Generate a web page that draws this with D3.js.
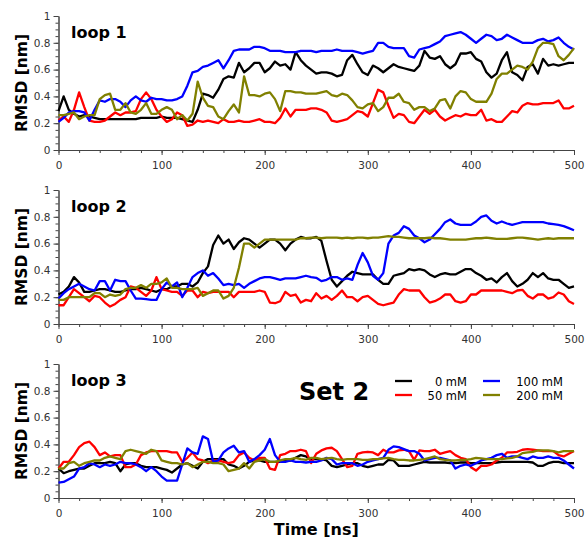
<!DOCTYPE html>
<html>
<head>
<meta charset="utf-8">
<script src="https://cdn.jsdelivr.net/npm/d3@7"></script>
<style>
  body { margin: 0; background: #fff; }
  text { font-family: "DejaVu Sans", sans-serif; }
  .axis text { font-size: 10.5px; fill: #333; }
  .axis path, .axis line { stroke: #444; stroke-width: 1; }
</style>
</head>
<body>
<div id="chart"></div>
<script>
// time points [ns]
var times = [0,5,10,15,20,25,30,35,40,45,50,55,60,65,70,75,80,85,90,95,
  100,105,110,115,120,125,130,135,140,145,150,155,160,165,170,175,180,185,190,195,
  200,205,210,215,220,225,230,235,240,245,250,255,260,265,270,275,280,285,290,295,
  300,305,310,315,320,325,330,335,340,345,350,355,360,365,370,375,380,385,390,395,
  400,405,410,415,420,425,430,435,440,445,450,455,460,465,470,475,480,485,490,495,500];

var concLabels = ["0 mM", "50 mM", "100 mM", "200 mM"];
var concColors = ["#000000", "#ff0000", "#0000ff", "#808000"];
var loopLabels = ["loop 1", "loop 2", "loop 3"];
var xTicks = [0, 100, 200, 300, 400, 500];
var yTicks = [0, 0.2, 0.4, 0.6, 0.8, 1];

// loop 1
var loop1_0 = [0.29,0.40,0.30,0.27,0.25,0.26,0.25,0.24,0.23,0.23,
  0.23,0.23,0.23,0.23,0.23,0.23,0.24,0.24,0.24,0.24,
  0.25,0.24,0.24,0.24,0.23,0.22,0.21,0.30,0.42,0.41,
  0.39,0.45,0.53,0.55,0.54,0.65,0.58,0.61,0.65,0.65,
  0.58,0.61,0.66,0.63,0.64,0.60,0.73,0.67,0.63,0.60,
  0.57,0.58,0.58,0.57,0.55,0.56,0.67,0.71,0.64,0.58,
  0.56,0.63,0.61,0.58,0.61,0.64,0.62,0.61,0.60,0.59,
  0.63,0.74,0.69,0.68,0.70,0.64,0.61,0.64,0.72,0.72,
  0.73,0.68,0.66,0.58,0.54,0.57,0.67,0.73,0.58,0.56,
  0.52,0.62,0.64,0.57,0.68,0.63,0.64,0.63,0.64,0.65,0.65];
var loop1_50 = [0.22,0.25,0.21,0.30,0.43,0.32,0.22,0.21,0.21,0.22,
  0.25,0.28,0.26,0.28,0.28,0.29,0.38,0.43,0.38,0.30,
  0.25,0.21,0.23,0.28,0.26,0.18,0.19,0.22,0.21,0.22,
  0.21,0.20,0.23,0.21,0.21,0.22,0.21,0.21,0.22,0.23,
  0.21,0.21,0.20,0.24,0.31,0.25,0.30,0.30,0.30,0.31,
  0.31,0.30,0.28,0.22,0.21,0.22,0.23,0.26,0.29,0.28,
  0.25,0.35,0.45,0.43,0.33,0.24,0.27,0.26,0.21,0.20,
  0.25,0.30,0.27,0.30,0.25,0.22,0.24,0.26,0.25,0.27,
  0.26,0.26,0.30,0.22,0.23,0.21,0.21,0.25,0.29,0.28,
  0.33,0.35,0.34,0.34,0.35,0.35,0.35,0.37,0.31,0.31,0.33];
var loop1_100 = [0.21,0.24,0.28,0.29,0.29,0.28,0.22,0.30,0.37,0.36,
  0.38,0.38,0.36,0.32,0.37,0.40,0.37,0.36,0.39,0.38,
  0.38,0.37,0.37,0.38,0.40,0.48,0.58,0.59,0.62,0.63,
  0.65,0.67,0.61,0.67,0.74,0.75,0.75,0.75,0.77,0.77,
  0.76,0.74,0.74,0.74,0.73,0.73,0.73,0.74,0.74,0.74,
  0.73,0.74,0.74,0.74,0.75,0.74,0.74,0.74,0.73,0.72,
  0.73,0.74,0.80,0.80,0.77,0.76,0.76,0.76,0.70,0.69,
  0.75,0.76,0.77,0.79,0.81,0.85,0.86,0.87,0.88,0.86,
  0.83,0.80,0.83,0.86,0.85,0.82,0.83,0.86,0.84,0.82,
  0.80,0.80,0.80,0.82,0.83,0.81,0.82,0.84,0.80,0.77,0.75];
var loop1_200 = [0.26,0.26,0.27,0.28,0.23,0.25,0.26,0.26,0.38,0.41,
  0.42,0.30,0.30,0.35,0.28,0.27,0.30,0.35,0.27,0.27,
  0.30,0.32,0.30,0.23,0.26,0.22,0.27,0.51,0.39,0.33,
  0.32,0.25,0.23,0.29,0.34,0.28,0.55,0.41,0.41,0.40,
  0.42,0.43,0.38,0.29,0.44,0.44,0.43,0.43,0.42,0.42,
  0.42,0.43,0.44,0.41,0.40,0.42,0.41,0.37,0.32,0.31,
  0.34,0.35,0.29,0.32,0.39,0.39,0.42,0.36,0.35,0.30,
  0.32,0.32,0.29,0.31,0.37,0.38,0.31,0.40,0.44,0.43,
  0.38,0.36,0.36,0.36,0.42,0.53,0.57,0.57,0.60,0.63,
  0.62,0.60,0.66,0.76,0.80,0.80,0.79,0.70,0.67,0.71,0.76];

// loop 2
var loop2_0 = [0.22,0.24,0.28,0.35,0.31,0.24,0.24,0.25,0.26,0.26,
  0.25,0.24,0.24,0.25,0.26,0.26,0.27,0.26,0.25,0.24,
  0.26,0.26,0.28,0.28,0.30,0.30,0.28,0.31,0.38,0.43,
  0.59,0.66,0.60,0.63,0.56,0.61,0.64,0.63,0.60,0.57,
  0.60,0.63,0.63,0.60,0.55,0.60,0.63,0.65,0.64,0.64,
  0.65,0.62,0.47,0.33,0.28,0.32,0.36,0.39,0.38,0.37,
  0.37,0.37,0.33,0.30,0.30,0.36,0.37,0.38,0.41,0.40,
  0.41,0.40,0.37,0.35,0.37,0.38,0.37,0.37,0.39,0.41,
  0.41,0.38,0.36,0.33,0.34,0.31,0.35,0.38,0.32,0.28,
  0.30,0.33,0.38,0.35,0.38,0.34,0.33,0.33,0.30,0.27,0.28];
var loop2_50 = [0.14,0.14,0.20,0.26,0.23,0.20,0.17,0.21,0.20,0.16,
  0.13,0.15,0.18,0.20,0.28,0.27,0.24,0.21,0.25,0.35,
  0.26,0.25,0.24,0.24,0.21,0.25,0.25,0.20,0.24,0.23,
  0.24,0.24,0.24,0.24,0.20,0.24,0.24,0.24,0.24,0.25,
  0.24,0.16,0.155,0.17,0.24,0.21,0.22,0.16,0.18,0.17,
  0.23,0.19,0.21,0.18,0.21,0.25,0.20,0.20,0.17,0.20,
  0.21,0.18,0.15,0.14,0.15,0.16,0.22,0.26,0.25,0.25,
  0.25,0.20,0.16,0.17,0.19,0.22,0.22,0.17,0.16,0.17,
  0.22,0.22,0.25,0.25,0.25,0.25,0.25,0.24,0.23,0.25,
  0.255,0.21,0.19,0.22,0.22,0.19,0.20,0.235,0.22,0.17,0.15];
var loop2_100 = [0.19,0.23,0.26,0.28,0.30,0.28,0.26,0.25,0.32,0.32,
  0.25,0.33,0.32,0.32,0.25,0.19,0.19,0.185,0.18,0.18,
  0.26,0.31,0.28,0.31,0.20,0.27,0.35,0.38,0.40,0.36,
  0.38,0.34,0.29,0.30,0.29,0.30,0.27,0.30,0.32,0.34,
  0.35,0.35,0.34,0.33,0.34,0.34,0.34,0.35,0.36,0.35,
  0.345,0.32,0.33,0.35,0.35,0.33,0.34,0.33,0.44,0.53,
  0.46,0.36,0.33,0.38,0.60,0.66,0.68,0.73,0.71,0.66,
  0.64,0.61,0.63,0.67,0.71,0.76,0.78,0.75,0.74,0.74,
  0.74,0.765,0.80,0.81,0.77,0.75,0.765,0.75,0.74,0.75,
  0.76,0.76,0.76,0.76,0.76,0.75,0.745,0.74,0.73,0.715,0.70];
var loop2_200 = [0.18,0.18,0.20,0.20,0.20,0.20,0.20,0.23,0.23,0.20,
  0.22,0.21,0.22,0.26,0.27,0.27,0.29,0.27,0.30,0.30,
  0.31,0.34,0.27,0.27,0.26,0.26,0.26,0.27,0.21,0.23,
  0.25,0.25,0.19,0.21,0.27,0.42,0.60,0.60,0.57,0.60,
  0.63,0.63,0.63,0.63,0.63,0.63,0.63,0.64,0.64,0.645,
  0.645,0.64,0.645,0.645,0.645,0.64,0.645,0.64,0.645,0.645,
  0.64,0.645,0.645,0.65,0.655,0.65,0.65,0.645,0.64,0.64,
  0.64,0.64,0.645,0.64,0.64,0.635,0.63,0.63,0.63,0.63,
  0.635,0.64,0.64,0.645,0.64,0.635,0.635,0.635,0.64,0.645,
  0.645,0.64,0.635,0.63,0.635,0.64,0.635,0.64,0.64,0.64,0.64];

// loop 3
var loop3_0 = [0.22,0.185,0.20,0.21,0.22,0.22,0.24,0.26,0.26,0.26,
  0.27,0.26,0.20,0.25,0.26,0.26,0.24,0.23,0.23,0.23,
  0.22,0.21,0.19,0.22,0.25,0.26,0.24,0.22,0.27,0.29,
  0.29,0.29,0.29,0.25,0.24,0.22,0.24,0.27,0.28,0.28,
  0.27,0.27,0.27,0.27,0.28,0.28,0.30,0.32,0.31,0.29,
  0.29,0.29,0.28,0.24,0.23,0.24,0.25,0.26,0.26,0.24,
  0.23,0.24,0.25,0.25,0.285,0.28,0.24,0.24,0.24,0.25,
  0.26,0.27,0.265,0.265,0.265,0.265,0.26,0.26,0.265,0.265,
  0.26,0.26,0.26,0.26,0.26,0.265,0.27,0.27,0.27,0.27,
  0.27,0.27,0.265,0.24,0.24,0.26,0.27,0.27,0.26,0.26,0.26];
var loop3_50 = [0.22,0.27,0.27,0.32,0.38,0.41,0.42,0.38,0.32,0.34,
  0.31,0.32,0.32,0.23,0.23,0.25,0.32,0.34,0.35,0.35,
  0.35,0.35,0.34,0.34,0.27,0.30,0.34,0.29,0.28,0.26,
  0.28,0.28,0.27,0.26,0.27,0.32,0.34,0.30,0.28,0.30,
  0.30,0.22,0.21,0.32,0.33,0.35,0.35,0.36,0.35,0.26,
  0.33,0.355,0.37,0.375,0.35,0.29,0.23,0.24,0.33,0.34,
  0.345,0.34,0.32,0.36,0.34,0.34,0.355,0.36,0.35,0.285,
  0.355,0.35,0.35,0.36,0.33,0.34,0.35,0.32,0.30,0.29,
  0.23,0.205,0.24,0.24,0.25,0.28,0.30,0.34,0.34,0.345,
  0.36,0.365,0.36,0.355,0.35,0.35,0.35,0.32,0.31,0.33,0.35];
var loop3_100 = [0.115,0.12,0.14,0.16,0.22,0.23,0.26,0.25,0.23,0.25,
  0.24,0.25,0.27,0.26,0.26,0.25,0.23,0.20,0.23,0.20,
  0.16,0.13,0.13,0.13,0.25,0.37,0.34,0.33,0.46,0.44,
  0.27,0.28,0.34,0.37,0.39,0.34,0.35,0.27,0.29,0.32,
  0.36,0.44,0.32,0.27,0.27,0.28,0.27,0.27,0.265,0.27,
  0.27,0.28,0.30,0.29,0.25,0.26,0.26,0.26,0.24,0.25,
  0.27,0.28,0.29,0.30,0.36,0.385,0.38,0.365,0.35,0.35,
  0.33,0.28,0.29,0.30,0.30,0.29,0.28,0.22,0.24,0.25,
  0.24,0.26,0.28,0.29,0.30,0.32,0.33,0.30,0.31,0.31,
  0.30,0.29,0.31,0.30,0.30,0.31,0.30,0.30,0.28,0.25,0.22];
var loop3_200 = [0.22,0.22,0.26,0.27,0.24,0.26,0.27,0.28,0.28,0.30,
  0.31,0.30,0.29,0.35,0.36,0.35,0.34,0.33,0.36,0.35,
  0.28,0.27,0.26,0.26,0.25,0.26,0.23,0.25,0.27,0.27,
  0.26,0.26,0.25,0.20,0.21,0.22,0.26,0.22,0.27,0.28,
  0.29,0.27,0.27,0.28,0.29,0.29,0.30,0.29,0.285,0.30,
  0.30,0.29,0.295,0.30,0.29,0.285,0.29,0.29,0.29,0.285,
  0.285,0.29,0.29,0.295,0.30,0.29,0.285,0.285,0.28,0.28,
  0.285,0.29,0.30,0.31,0.29,0.285,0.28,0.28,0.285,0.285,
  0.29,0.30,0.295,0.29,0.29,0.29,0.29,0.295,0.30,0.31,
  0.335,0.34,0.345,0.355,0.355,0.355,0.35,0.34,0.35,0.35,0.35];

var loops = [
  [loop1_0, loop1_50, loop1_100, loop1_200],
  [loop2_0, loop2_50, loop2_100, loop2_200],
  [loop3_0, loop3_50, loop3_100, loop3_200]
];

var W = 587, H = 540;
var panelTop = [16, 190, 364], panelH = 134;

var svg = d3.select("#chart").append("svg")
  .attr("width", W).attr("height", H);

var x = d3.scaleLinear().domain([0, 500]).range([58.5, 574]);
var y = d3.scaleLinear().domain([0, 1]).range([panelH, 0]);

loops.forEach(function(series, i) {
  var g = svg.append("g").attr("transform", "translate(0," + panelTop[i] + ")");

  // minor ticks
  g.append("g").attr("class", "axis")
    .attr("transform", "translate(0," + panelH + ")")
    .call(d3.axisBottom(x).tickValues(d3.range(0, 501, 20)).tickSize(3).tickSizeOuter(0).tickFormat(""));
  g.append("g").attr("class", "axis")
    .attr("transform", "translate(" + x(0) + ",0)")
    .call(d3.axisLeft(y).tickValues(d3.range(0, 21).map(function(k){ return k / 20; })).tickSize(3).tickSizeOuter(0).tickFormat(""));

  // major ticks with labels
  g.append("g").attr("class", "axis")
    .attr("transform", "translate(0," + panelH + ")")
    .call(d3.axisBottom(x).tickValues(xTicks).tickSize(5).tickSizeOuter(0).tickPadding(7).tickFormat(function(d){ return String(d); }));
  g.append("g").attr("class", "axis")
    .attr("transform", "translate(" + x(0) + ",0)")
    .call(d3.axisLeft(y).tickValues(yTicks).tickSize(5).tickSizeOuter(0).tickPadding(3).tickFormat(function(d){ return String(d); }));

  var line = d3.line()
    .x(function(d, j){ return x(times[j]); })
    .y(function(d){ return y(d); });

  series.forEach(function(vals, k) {
    g.append("path")
      .datum(vals)
      .attr("fill", "none")
      .attr("stroke", concColors[k])
      .attr("stroke-width", 2.3)
      .attr("stroke-linejoin", "round")
      .attr("d", line);
  });

  g.append("text")
    .attr("x", 71).attr("y", 22)
    .attr("font-size", "16px").attr("font-weight", "bold")
    .text(loopLabels[i]);

  g.append("text")
    .attr("transform", "translate(27," + (panelH / 2) + ") rotate(-90)")
    .attr("text-anchor", "middle")
    .attr("font-size", "15.5px").attr("font-weight", "bold")
    .text("RMSD [nm]");
});

svg.append("text")
  .attr("x", (x(0) + x(500)) / 2).attr("y", 535)
  .attr("text-anchor", "middle")
  .attr("font-size", "16px").attr("font-weight", "bold")
  .text("Time [ns]");

svg.append("text")
  .attr("x", 299).attr("y", 400)
  .attr("font-size", "24px").attr("font-weight", "bold")
  .text("Set 2");

// legend: two columns
var legX = [395, 483], legTextX = [467, 563], legY = [381, 395];
concLabels.forEach(function(lab, k) {
  var col = Math.floor(k / 2), row = k % 2;
  svg.append("line")
    .attr("x1", legX[col]).attr("x2", legX[col] + 17)
    .attr("y1", legY[row]).attr("y2", legY[row])
    .attr("stroke", concColors[k]).attr("stroke-width", 2.3);
  svg.append("text")
    .attr("x", legTextX[col]).attr("y", legY[row] + 4.5)
    .attr("text-anchor", "end")
    .attr("font-size", "11.5px")
    .text(lab);
});
</script>
</body>
</html>
